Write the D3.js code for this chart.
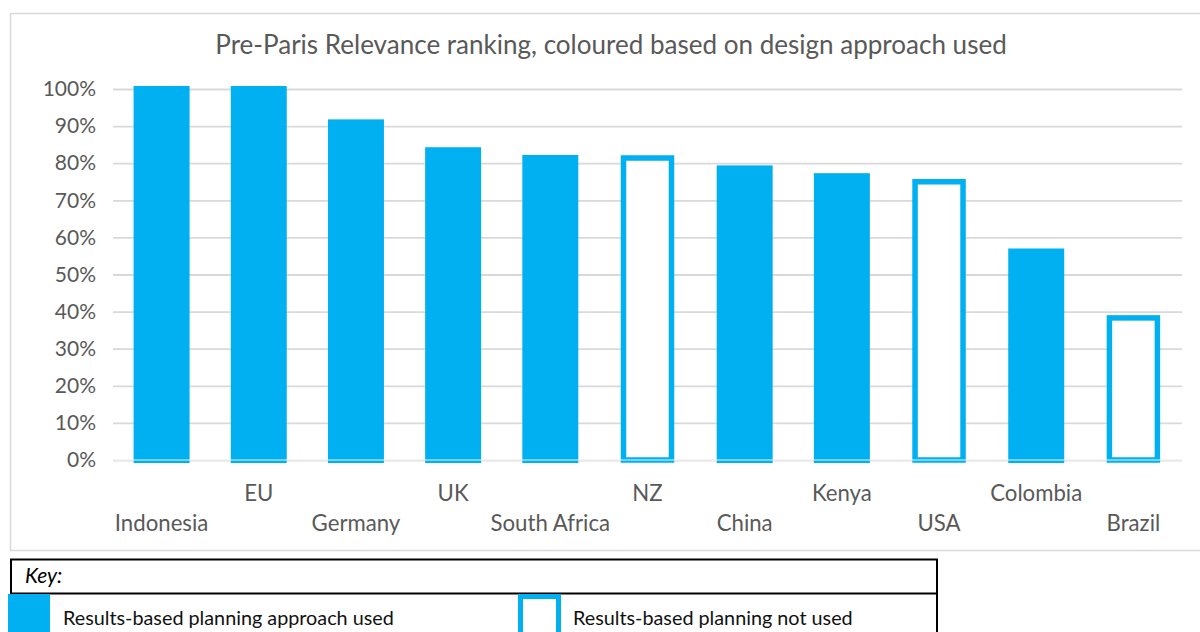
<!DOCTYPE html>
<html>
<head>
<meta charset="utf-8">
<script src="https://cdn.jsdelivr.net/npm/d3@7"></script>
<style>
  html, body { margin: 0; padding: 0; background: #fff; }
  svg { display: block; }
  text { font-family: Lato, "Open Sans", sans-serif; }
</style>
</head>
<body>
<svg id="chart" width="1200" height="632"></svg>
<script>
// ---- data ----
const title = "Pre-Paris Relevance ranking, coloured based on design approach used";
const countries = ["Indonesia", "EU", "Germany", "UK", "South Africa", "NZ", "China", "Kenya", "USA", "Colombia", "Brazil"];
const relevance = [1.00, 1.00, 0.91, 0.835, 0.814, 0.814, 0.786, 0.765, 0.75, 0.562, 0.383];
const resultsBased = [true, true, true, true, true, false, true, true, false, true, false];
const yTicks = [0, 0.1, 0.2, 0.3, 0.4, 0.5, 0.6, 0.7, 0.8, 0.9, 1.0];
const keyTitle = "Key:";
const keyLabels = ["Results-based planning approach used", "Results-based planning not used"];
const keyFilled = [true, false];

// ---- setup ----
const blue = "#00B0F0";
const grey = "#595959";
const gridCol = "#d9d9d9";
const svg = d3.select("#chart");

const plot = { left: 113, right: 1182, top: 89, bottom: 460 };

const x = d3.scaleBand()
  .domain(countries)
  .range([plot.left, plot.right])
  .paddingInner(0.424)
  .paddingOuter(0.212);

const y = d3.scaleLinear().domain([0, 1]).range([plot.bottom, plot.top]);

// chart border
svg.append("rect")
  .attr("x", 10.5).attr("y", 13.5)
  .attr("width", 1200).attr("height", 537)
  .attr("fill", "#fff").attr("stroke", gridCol).attr("stroke-width", 1.5);

// title
const t = svg.append("text")
  .attr("x", 611).attr("y", 54)
  .attr("text-anchor", "middle")
  .attr("fill", grey)
  .attr("font-size", 22)
  .text(title);
const tw = t.node().getComputedTextLength();
t.attr("font-size", 22 * 792 / tw);

// grid + y axis
const yAxis = d3.axisLeft(y)
  .tickValues(yTicks)
  .tickFormat(d3.format(".0%"))
  .tickSize(-(plot.right - plot.left))
  .tickPadding(17);

const gy = svg.append("g")
  .attr("transform", `translate(${plot.left},0)`)
  .call(yAxis);
gy.select(".domain").remove();
gy.selectAll(".tick line").attr("stroke", gridCol).attr("stroke-width", 1.8);
gy.selectAll(".tick text")
  .attr("fill", grey)
  .attr("font-size", 21)
  .style("font-family", "Lato, 'Open Sans', sans-serif");

// bars
const data = countries.map((c, i) => ({ c, v: relevance[i], filled: resultsBased[i] }));
const sw = 6;
svg.append("g").selectAll("rect")
  .data(data)
  .join("rect")
  .attr("x", d => x(d.c) + (d.filled ? sw / 2 : 4))
  .attr("width", d => x.bandwidth() - (d.filled ? sw : 8))
  .attr("y", d => y(d.v))
  .attr("height", d => y(0) - y(d.v))
  .attr("fill", d => d.filled ? blue : "#fff")
  .attr("stroke", blue)
  .attr("stroke-width", d => d.filled ? sw : 5.5);

// zero line over bars
svg.append("line")
  .attr("x1", plot.left).attr("x2", plot.right)
  .attr("y1", y(0)).attr("y2", y(0))
  .attr("stroke", "#fff").attr("stroke-opacity", 0.45).attr("stroke-width", 1.8);

// x labels (staggered)
svg.append("g").selectAll("text")
  .data(countries)
  .join("text")
  .attr("x", d => x(d) + x.bandwidth() / 2)
  .attr("y", (d, i) => i % 2 === 1 ? 501 : 531)
  .attr("text-anchor", "middle")
  .attr("fill", grey)
  .attr("font-size", 22.2)
  .text(d => d);

// ---- key table ----
const key = svg.append("g");
key.append("line").attr("x1", 10).attr("x2", 938).attr("y1", 559.5).attr("y2", 559.5).attr("stroke", "#000").attr("stroke-width", 2);
key.append("line").attr("x1", 10).attr("x2", 938).attr("y1", 593.5).attr("y2", 593.5).attr("stroke", "#000").attr("stroke-width", 2);
key.append("line").attr("x1", 11).attr("x2", 11).attr("y1", 559).attr("y2", 640).attr("stroke", "#000").attr("stroke-width", 2);
key.append("line").attr("x1", 937).attr("x2", 937).attr("y1", 559).attr("y2", 640).attr("stroke", "#000").attr("stroke-width", 2);

key.append("text")
  .attr("x", 25).attr("y", 583)
  .attr("font-size", 21)
  .attr("font-style", "italic")
  .attr("fill", "#000")
  .text(keyTitle);

const keyX = [8, 518];
const keyTextX = [63, 573];
keyLabels.forEach((lab, i) => {
  if (keyFilled[i]) {
    key.append("rect").attr("x", keyX[i]).attr("y", 594).attr("width", 42).attr("height", 50).attr("fill", blue);
  } else {
    key.append("rect").attr("x", keyX[i] + 2.5).attr("y", 596.5).attr("width", 38).attr("height", 50)
      .attr("fill", "#fff").attr("stroke", blue).attr("stroke-width", 5);
  }
  key.append("text")
    .attr("x", keyTextX[i]).attr("y", 625)
    .attr("font-size", 19.8)
    .attr("fill", "#111")
    .text(lab);
});
</script>
</body>
</html>
